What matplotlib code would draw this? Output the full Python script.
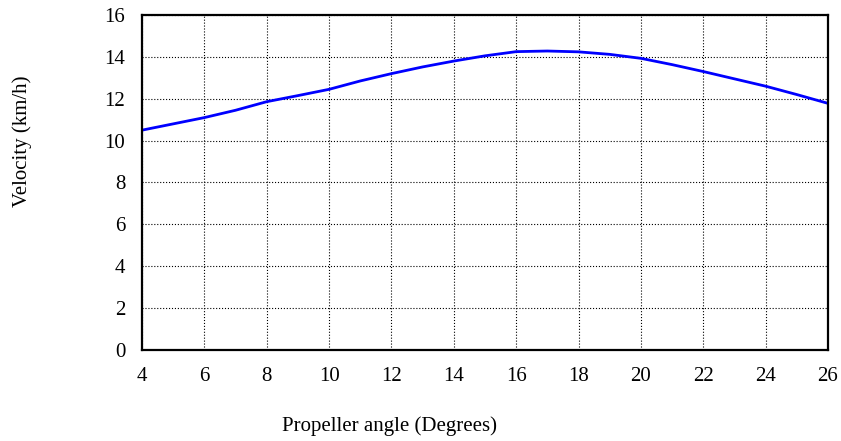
import matplotlib
matplotlib.use("Agg")
import matplotlib.pyplot as plt

# propeller angle (deg) vs velocity (km/h)
angle = [4, 5, 6, 7, 8, 9, 10, 11, 12, 13, 14, 15, 16, 17, 18, 19, 20, 21, 22, 23, 24, 25, 26]
velocity = [10.5, 10.8, 11.1, 11.45, 11.86, 12.15, 12.45, 12.85, 13.2, 13.52, 13.8,
            14.05, 14.25, 14.28, 14.24, 14.12, 13.93, 13.63, 13.3, 12.95, 12.6, 12.2, 11.78]

xticks = list(range(4, 27, 2))
yticks = list(range(0, 17, 2))

plt.rcParams['font.family'] = ['Liberation Serif', 'DejaVu Serif']

fig = plt.figure(figsize=(8.41, 4.41), dpi=100)
ax = fig.add_axes([142 / 841, 1 - 350 / 441, (828 - 142) / 841, (350 - 15) / 441])

ax.plot(angle, velocity, color='#0000ff', linewidth=2)

ax.set_xlim(4, 26)
ax.set_ylim(0, 16)
ax.set_xticks(xticks)
ax.set_yticks(yticks)
ax.tick_params(length=0, labelsize=15)
ax.tick_params(axis='x', pad=12)
ax.tick_params(axis='y', pad=12)
ax.grid(True, color='black', linestyle=':', linewidth=0.8)
for s in ax.spines.values():
    s.set_linewidth(1.6)

fig.text(390 / 841, 1 - 426 / 441, 'Propeller angle (Degrees)', ha='center', va='center', fontsize=15)
fig.text(22 / 841, 1 - 141 / 441, 'Velocity (km/h)', ha='center', va='center', rotation=90, fontsize=15)

fig.savefig("out.png", dpi=100)
